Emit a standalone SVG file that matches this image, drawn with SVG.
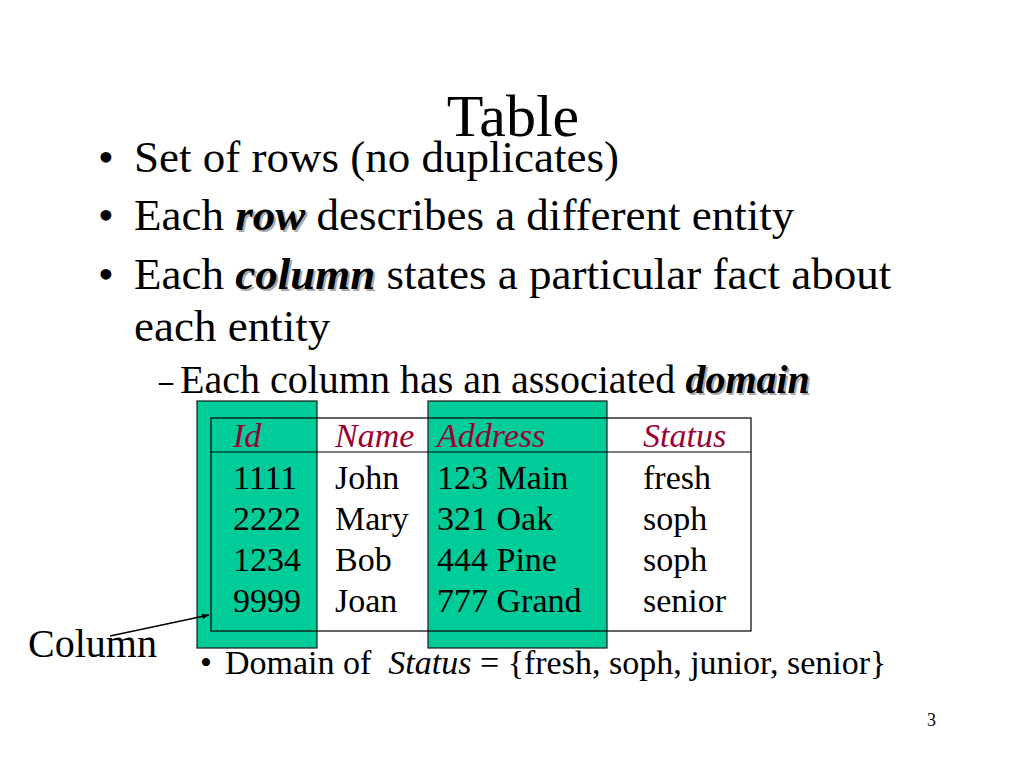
<svg xmlns="http://www.w3.org/2000/svg" width="1024" height="768" viewBox="0 0 1024 768">
<style>
text{font-family:"Liberation Serif","Times New Roman",serif;fill:#000}
.b{font-size:45px}
.s{font-size:40px}
.t{font-size:34px}
.h{font-style:italic;fill:#990033}
.e{font-style:italic;font-weight:bold}
.sh{fill:#aaa}
.n{fill-opacity:0}
.col{fill:#00CC99;stroke:#1a1a1a;stroke-width:1.2}
</style>
<defs>
<marker id="ah" viewBox="0 0 10 10" refX="10" refY="5" markerWidth="7" markerHeight="7" orient="auto" markerUnits="userSpaceOnUse">
<path d="M0,1 L10,5 L0,9 z" fill="#000"/>
</marker>
</defs>
<rect width="1024" height="768" fill="#fff"/>
<text x="513" y="136" text-anchor="middle" style="font-size:60px">Table</text>
<g id="bullets">
<text class="b" x="98" y="172">•</text>
<text class="b" x="134" y="172">Set of rows (no duplicates)</text>
<text class="b" x="98" y="230">•</text>
<text class="b" x="136" y="232"><tspan class="n">Each </tspan><tspan class="e sh">row</tspan></text>
<text class="b" x="134" y="230">Each <tspan class="e">row</tspan> describes a different entity</text>
<text class="b" x="98" y="289">•</text>
<text class="b" x="136" y="291"><tspan class="n">Each </tspan><tspan class="e sh">column</tspan></text>
<text class="b" x="134" y="289">Each <tspan class="e">column</tspan> states a particular fact about</text>
<text class="b" x="134" y="341">each entity</text>
<text class="s" x="159" y="393" textLength="14" lengthAdjust="spacingAndGlyphs">–</text>
<text class="s" x="182" y="395"><tspan class="n">Each column has an associated </tspan><tspan class="e sh">domain</tspan></text>
<text class="s" x="180" y="393">Each column has an associated <tspan class="e">domain</tspan></text>
</g>
<g id="col-id"><rect class="col" x="197" y="401" width="120" height="247"/></g>
<g id="col-address"><rect class="col" x="428" y="401" width="179" height="247"/></g>
<g id="table">
<rect x="211" y="418" width="540" height="213" fill="none" stroke="#000" stroke-width="1.2"/>
<line x1="211" y1="452" x2="751" y2="452" stroke="#000" stroke-width="1.2"/>
<text class="t h" x="233" y="447">Id</text>
<text class="t h" x="335" y="447">Name</text>
<text class="t h" x="437" y="447">Address</text>
<text class="t h" x="643" y="447">Status</text>
<text class="t" x="233" y="489">1111</text>
<text class="t" x="335" y="489">John</text>
<text class="t" x="437" y="489">123 Main</text>
<text class="t" x="643" y="489">fresh</text>
<text class="t" x="233" y="530">2222</text>
<text class="t" x="335" y="530">Mary</text>
<text class="t" x="437" y="530">321 Oak</text>
<text class="t" x="643" y="530">soph</text>
<text class="t" x="233" y="571">1234</text>
<text class="t" x="335" y="571">Bob</text>
<text class="t" x="437" y="571">444 Pine</text>
<text class="t" x="643" y="571">soph</text>
<text class="t" x="233" y="612">9999</text>
<text class="t" x="335" y="612">Joan</text>
<text class="t" x="437" y="612">777 Grand</text>
<text class="t" x="643" y="612">senior</text>
</g>
<g id="connectors">
<line x1="110" y1="636" x2="209" y2="615" stroke="#000" stroke-width="1.5" marker-end="url(#ah)"/>
</g>
<g id="column-label"><text class="s" x="28" y="657">Column</text></g>
<g id="domain-note">
<text class="t" x="200" y="674">•</text>
<text class="t" x="225" y="674" xml:space="preserve">Domain of  <tspan font-style="italic">Status</tspan> = {fresh, soph, junior, senior}</text>
</g>
<text x="927" y="726" style="font-size:18px">3</text>
</svg>
